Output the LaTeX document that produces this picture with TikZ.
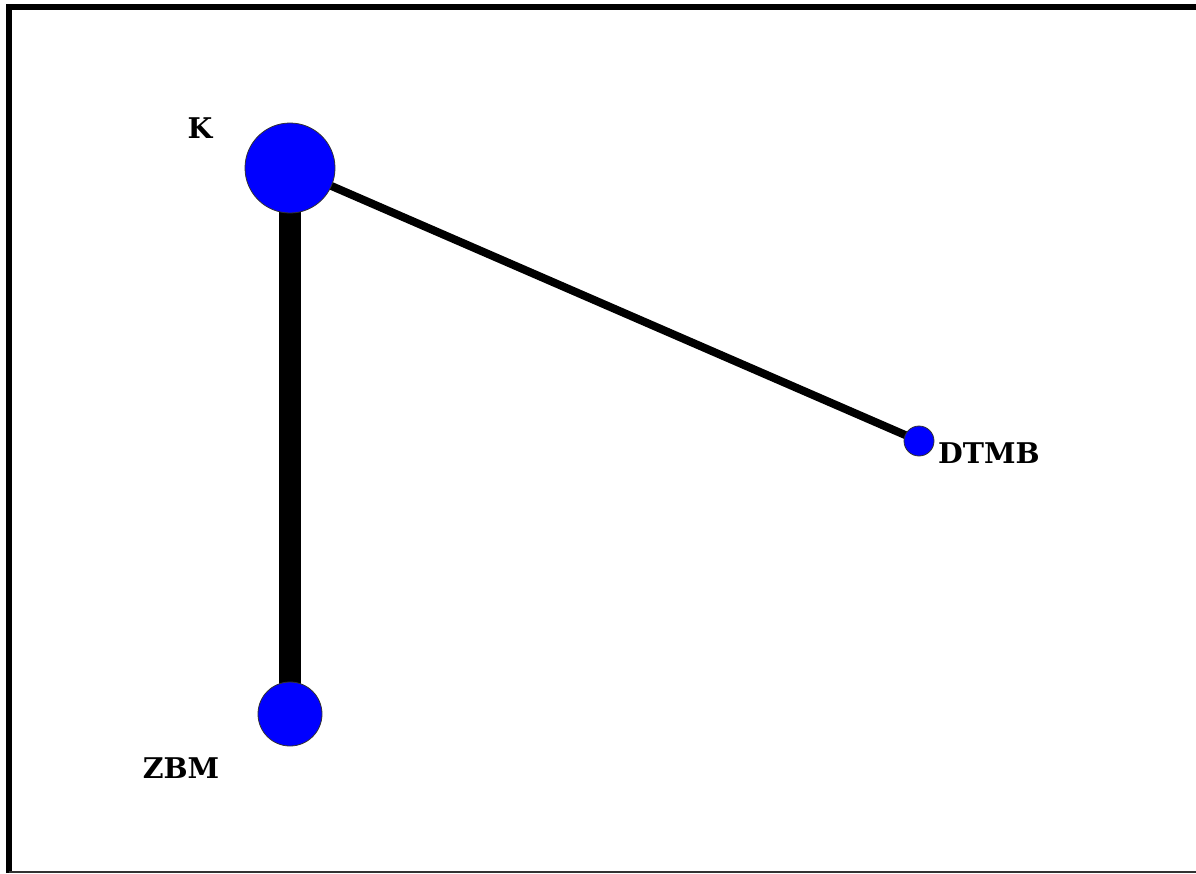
\documentclass[tikz,border=0pt]{standalone}
\usepackage{fontspec}
\setmainfont{DejaVu Serif}
\usepackage{tikz}
\usetikzlibrary{positioning}
\definecolor{hubBlue}{HTML}{0000FF}

\begin{document}
\begin{tikzpicture}[x=1pt,y=-1pt,
  hub/.style={circle,draw=black!80,line width=0.8pt,fill=hubBlue,inner sep=0pt},
  lbl/.style={font=\fontsize{28.5}{30}\selectfont\bfseries},
  link/.style={draw=black,line cap=butt}]
\useasboundingbox (0,0) rectangle (1196,873);
% frame
\draw[line width=6pt] (9,873) -- (9,7) -- (1196,7);
\draw[line width=2pt,black!80] (9,872) -- (1196,872);
% stations
\coordinate (kc) at (290,168);
\coordinate (dc) at (919,441);
\coordinate (zc) at (290,714);
% links first, circles on top
\path[link,line width=22.5pt] (kc) -- (zc);
\path[link,line width=8pt] (kc) -- (dc);
\node[hub,minimum size=90pt] (k) at (kc) {};
\node[hub,minimum size=30pt] (dtmb) at (dc) {};
\node[hub,minimum size=64pt] (zbm) at (zc) {};
% names
\node[lbl] (kname) at (200,128) {K};
\node[lbl] (dtmbname) at (989,453) {DTMB};
\node[lbl] (zbmname) at (181,768) {ZBM};
\end{tikzpicture}
\end{document}
